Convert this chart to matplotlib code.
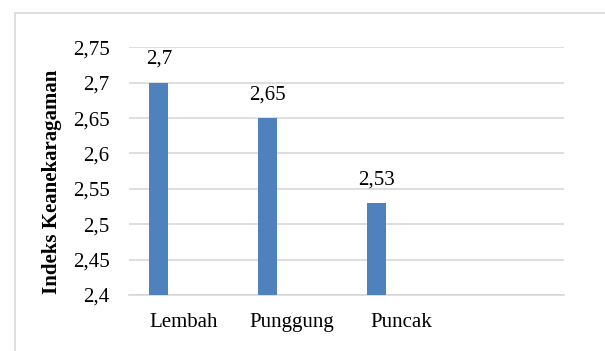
import matplotlib
matplotlib.use("Agg")
import matplotlib.pyplot as plt
from matplotlib.patches import Rectangle
from matplotlib.ticker import FuncFormatter, MultipleLocator

# data
categories = ["Lembah", "Punggung", "Puncak", ""]
values = [2.7, 2.65, 2.53]
labels = ["2,7", "2,65", "2,53"]

plt.rcParams['font.family'] = ['Liberation Serif', 'DejaVu Serif']

def comma_fmt(v, pos):
    s = f"{v:.2f}".rstrip('0').rstrip('.')
    return s.replace('.', ',')

fig = plt.figure(figsize=(6.05, 3.51), dpi=100)
ax = fig.add_axes([129/605, 1-295/351, (564-129)/605, (295-47.3)/351])

# light frame around the chart area
fig.patches.append(Rectangle((15/605, -0.1), 1.2, 1.1 - 13/351,
                             transform=fig.transFigure, fill=False,
                             edgecolor='#d9d9d9', linewidth=1.2))

xs = [i - 0.225 for i in range(len(values))]
bars = ax.bar(xs, values, width=0.174, color='#4f81bd', zorder=3)
for b, lab in zip(bars, labels):
    ax.annotate(lab, (b.get_x() + b.get_width()/2, b.get_height()),
                xytext=(0, 10), textcoords='offset points',
                ha='center', va='bottom', fontsize=15)

ax.set_xlim(-0.5, 3.5)
ax.set_ylim(2.4, 2.75)
ax.yaxis.set_major_locator(MultipleLocator(0.05))
ax.yaxis.set_major_formatter(FuncFormatter(comma_fmt))
ax.set_xticks(range(len(categories)))
ax.set_xticklabels(categories)

ax.grid(axis='y', color='#d9d9d9', linewidth=1.25, zorder=0)
for side in ['top', 'right', 'left']:
    ax.spines[side].set_visible(False)
ax.spines['bottom'].set_color('#d9d9d9')
ax.spines['bottom'].set_linewidth(1.25)
ax.tick_params(axis='y', length=0, pad=14, labelsize=15)
ax.tick_params(axis='x', length=0, pad=13, labelsize=15)

ax.set_ylabel('Indeks Keanekaragaman', fontsize=15, fontweight='bold')
ax.yaxis.set_label_coords(-0.154, 0.456)

fig.savefig('out.png', dpi=100)
